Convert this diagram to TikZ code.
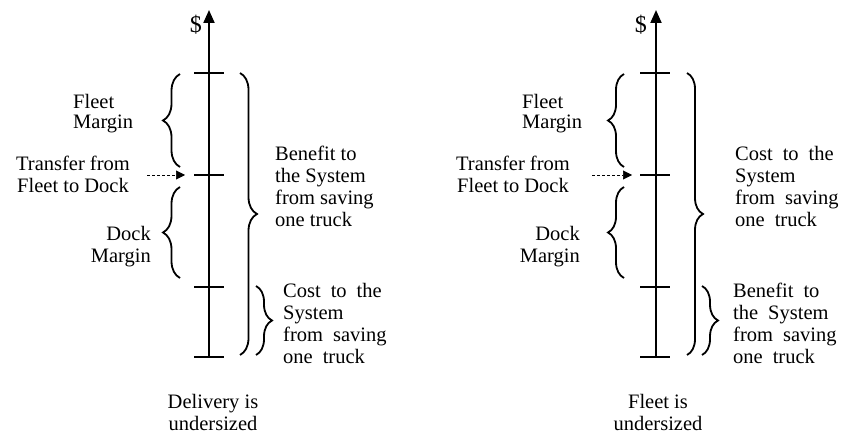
\documentclass[tikz,border=0pt]{standalone}
\usepackage{fontspec}
\setmainfont{Liberation Serif}
\usetikzlibrary{decorations.pathreplacing,arrows.meta}
\begin{document}
\begin{tikzpicture}[x=1pt,y=-1pt,
  lbl/.style={font=\fontsize{20.5}{22}\selectfont, inner sep=0pt},
  dol/.style={font=\fontsize{24}{26}\selectfont, inner sep=0pt},
  wide/.style={execute at begin node={\spaceskip=10pt\relax}},
  axisline/.style={line width=2pt, -{Triangle[length=13pt,width=11pt]}},
  tickline/.style={line width=2pt},
  brc/.style={decorate, decoration={brace, amplitude=#1}, line width=1.8pt},
  brc/.default=17pt,
  xfer/.style={line width=0.6pt, dash pattern=on 3pt off 2pt, -{Triangle[length=9pt,width=9pt]}}
]
\useasboundingbox (0,0) rectangle (845,435);

% ---------- Left diagram ----------
\coordinate (La0) at (209,357);
\coordinate (La1) at (209,10);
\draw[axisline] (La0) -- (La1);
\node[dol, anchor=base east] (Ldol) at (202,33) {\$};
\coordinate (Lt1a) at (194,73);  \coordinate (Lt1b) at (224,73);
\coordinate (Lt2a) at (194,175); \coordinate (Lt2b) at (224,175);
\coordinate (Lt3a) at (194,287); \coordinate (Lt3b) at (224,287);
\coordinate (Lt4a) at (194,357); \coordinate (Lt4b) at (224,357);
\draw[tickline] (Lt1a) -- (Lt1b);
\draw[tickline] (Lt2a) -- (Lt2b);
\draw[tickline] (Lt3a) -- (Lt3b);
\draw[tickline] (Lt4a) -- (Lt4b);

\coordinate (Lfb) at (180,167); \coordinate (Lft) at (180,74);
\draw[brc] (Lfb) -- (Lft);
\coordinate (Ldb) at (180,278); \coordinate (Ldt) at (180,187);
\draw[brc] (Ldb) -- (Ldt);
\coordinate (LBt) at (240,73); \coordinate (LBb) at (240,355);
\draw[brc] (LBt) -- (LBb);
\coordinate (LSt) at (256,286); \coordinate (LSb) at (256,355);
\draw[brc=16pt] (LSt) -- (LSb);

\coordinate (Lxs) at (147,175); \coordinate (Lxe) at (185,175);
\draw[xfer] (Lxs) -- (Lxe);

\node[lbl, anchor=north west, align=left] (Lfleet) at (73,94) {Fleet\\[-2pt]Margin};
\node[lbl, anchor=north, align=center] (Ltrans) at (73,156) {Transfer from\\Fleet to Dock};
\node[lbl, anchor=north east, align=right] (Ldock) at (151,226) {Dock\\Margin};
\node[lbl, anchor=north west, align=left] (Lben) at (275,146) {Benefit to\\the System\\from saving\\one truck};
\node[lbl, wide, anchor=north west, align=left] (Lcost) at (283,283) {Cost to the\\System\\from saving\\one truck};
\node[lbl, anchor=north, align=center] (Lcap) at (213,394) {Delivery is\\undersized};

% ---------- Right diagram ----------
\coordinate (Ra0) at (656,357);
\coordinate (Ra1) at (656,10);
\draw[axisline] (Ra0) -- (Ra1);
\node[dol, anchor=base east] (Rdol) at (647,33) {\$};
\coordinate (Rt1a) at (640,73);  \coordinate (Rt1b) at (670,73);
\coordinate (Rt2a) at (640,175); \coordinate (Rt2b) at (670,175);
\coordinate (Rt3a) at (640,287); \coordinate (Rt3b) at (670,287);
\coordinate (Rt4a) at (640,357); \coordinate (Rt4b) at (670,357);
\draw[tickline] (Rt1a) -- (Rt1b);
\draw[tickline] (Rt2a) -- (Rt2b);
\draw[tickline] (Rt3a) -- (Rt3b);
\draw[tickline] (Rt4a) -- (Rt4b);

\coordinate (Rfb) at (624,167); \coordinate (Rft) at (624,74);
\draw[brc=16pt] (Rfb) -- (Rft);
\coordinate (Rdb) at (624,278); \coordinate (Rdt) at (624,187);
\draw[brc=16pt] (Rdb) -- (Rdt);
\coordinate (RBt) at (687,73); \coordinate (RBb) at (687,355);
\draw[brc=16pt] (RBt) -- (RBb);
\coordinate (RSt) at (702,286); \coordinate (RSb) at (702,355);
\draw[brc=16pt] (RSt) -- (RSb);

\coordinate (Rxs) at (592,175); \coordinate (Rxe) at (632,175);
\draw[xfer] (Rxs) -- (Rxe);

\node[lbl, anchor=north west, align=left] (Rfleet) at (522,94) {Fleet\\[-2pt]Margin};
\node[lbl, anchor=north, align=center] (Rtrans) at (513,156) {Transfer from\\Fleet to Dock};
\node[lbl, anchor=north east, align=right] (Rdock) at (580,226) {Dock\\Margin};
\node[lbl, wide, anchor=north west, align=left] (Rcost) at (735,146) {Cost to the\\System\\from saving\\one truck};
\node[lbl, wide, anchor=north west, align=left] (Rben) at (733,283) {Benefit to\\the System\\from saving\\one truck};
\node[lbl, anchor=north, align=center] (Rcap) at (658,394) {Fleet is\\undersized};
\end{tikzpicture}
\end{document}
